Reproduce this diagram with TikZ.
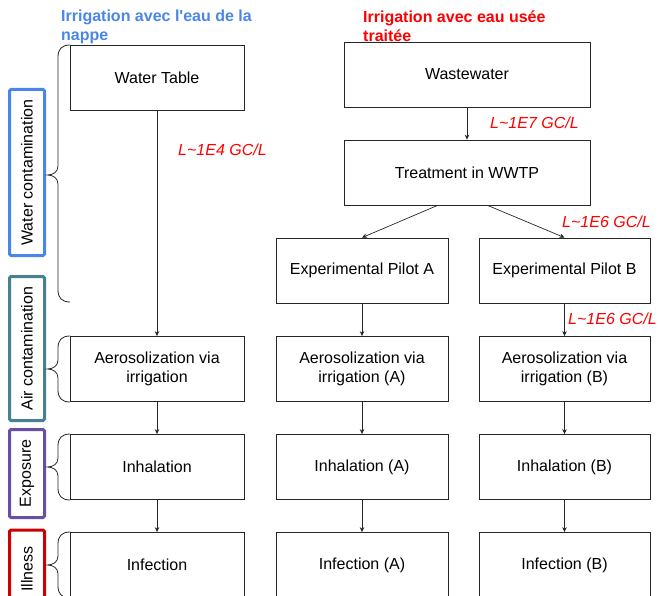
\documentclass[tikz,border=0pt]{standalone}
\usepackage{fontspec}
\setmainfont{Liberation Sans}
\usetikzlibrary{calc,arrows.meta}
\definecolor{gblue}{HTML}{4A86E8}
\definecolor{gteal}{HTML}{45818E}
\definecolor{gpurple}{HTML}{674EA7}
\definecolor{gred}{HTML}{CC0000}
\newcommand{\mybrace}[3]{%
  \draw[brc] (70,#1) .. controls (62,#1) and (58,{#1+4}) .. (58,{#1+12})
    -- (58,{#3-9}) .. controls (58,{#3-3}) and (53,#3) .. (47.5,#3)
    .. controls (53,#3) and (58,{#3+3}) .. (58,{#3+9})
    -- (58,{#2-12}) .. controls (58,{#2-4}) and (62,#2) .. (70,#2);}
\begin{document}
\begin{tikzpicture}[x=1pt,y=-1pt,
  box/.style={draw=black!85,line width=0.8pt,minimum height=65pt,inner sep=2pt,align=center,font=\fontsize{16}{19}\selectfont},
  lab/.style={text=red,font=\itshape\fontsize{16}{19}\selectfont,anchor=west,inner sep=0pt},
  arr/.style={-{Stealth[length=5pt,width=4.5pt]},line width=0.7pt,black!85},
  side/.style={draw,line width=3pt,rounded corners=1.5pt,rotate=90,minimum height=35pt,inner sep=0pt,font=\fontsize{16}{19}\selectfont},
  brc/.style={line width=0.8pt,black!85},
  ttl/.style={font=\bfseries\fontsize{16}{19}\selectfont,align=left,anchor=west,inner sep=0pt}]
\useasboundingbox (0,0) rectangle (658,596);

% titles
\node[ttl,text=gblue] (t1) at (61,26.5) {Irrigation avec l\textquotesingle eau de la\\nappe};
\node[ttl,text=red] (t2) at (363,26.5) {Irrigation avec eau usée\\traitée};

% left column
\node[box,minimum width=174pt] (wt) at (157,77.5) {Water Table};
\node[box,minimum width=174pt] (aL) at (157,369) {Aerosolization via\\irrigation};
\node[box,minimum width=174pt] (iL) at (157,467) {Inhalation};
\node[box,minimum width=174pt] (fL) at (157,565) {Infection};

% right part
\node[box,minimum width=246pt] (ww) at (467,74.5) {Wastewater};
\node[box,minimum width=246pt] (tr) at (467,172.5) {Treatment in WWTP};
\node[box,minimum width=172pt] (pa) at (362,270.5) {Experimental Pilot A};
\node[box,minimum width=171pt] (pb) at (564.5,270.5) {Experimental Pilot B};
\node[box,minimum width=172pt] (aA) at (362,369) {Aerosolization via\\irrigation (A)};
\node[box,minimum width=171pt] (aB) at (564.5,369) {Aerosolization via\\irrigation (B)};
\node[box,minimum width=172pt] (iA) at (362,467) {Inhalation (A)};
\node[box,minimum width=171pt] (iB) at (564.5,467) {Inhalation (B)};
\node[box,minimum width=172pt] (fA) at (362,565) {Infection (A)};
\node[box,minimum width=171pt] (fB) at (564.5,565) {Infection (B)};

% arrows
\draw[arr] (wt) -- (aL);
\draw[arr] (aL) -- (iL);
\draw[arr] (iL) -- (fL);
\draw[arr] (ww) -- (tr);
\draw[arr] ($(tr.south west)+(94,0)$) -- (pa.north);
\draw[arr] ($(tr.south west)+(144,0)$) -- (pb.north);
\draw[arr] (pa) -- (aA);
\draw[arr] (pb) -- (aB);
\draw[arr] (aA) -- (iA);
\draw[arr] (aB) -- (iB);
\draw[arr] (iA) -- (fA);
\draw[arr] (iB) -- (fB);

% red labels
\node[lab] (l1) at (178,150) {L\textasciitilde 1E4 GC/L};
\node[lab] (l2) at (490,123) {L\textasciitilde 1E7 GC/L};
\node[lab] (l3) at (562,222) {L\textasciitilde 1E6 GC/L};
\node[lab] (l4) at (568,319) {L\textasciitilde 1E6 GC/L};

% side labels
\node[side,draw=gblue,minimum width=166pt] (s1) at (27,172.5) {Water contamination};
\node[side,draw=gteal,minimum width=144pt] (s2) at (27,348.5) {Air contamination};
\node[side,draw=gpurple,minimum width=88pt] (s3) at (27,473.5) {Exposure};
\node[side,draw=gred,minimum width=78pt] (s4) at (27,569) {Illness};

% braces
\mybrace{45}{302}{175}
\mybrace{336}{402}{369}
\mybrace{434}{500}{467}
\mybrace{532}{598}{565}
\end{tikzpicture}
\end{document}
